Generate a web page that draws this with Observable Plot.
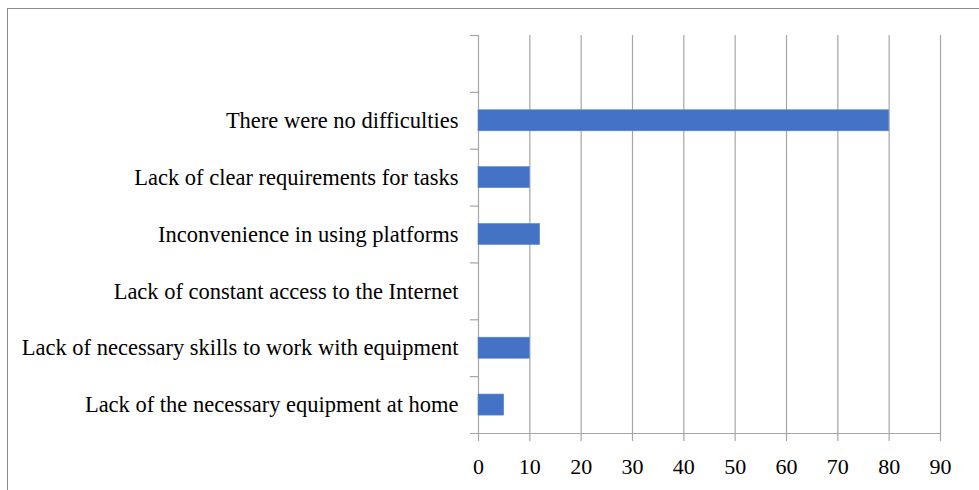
<!DOCTYPE html>
<html><head><meta charset="utf-8">
<script src="https://cdn.jsdelivr.net/npm/d3@7"></script>
<script src="https://cdn.jsdelivr.net/npm/@observablehq/plot@0.6"></script>
<style>
body{margin:0;background:#fff}
#wrap{position:relative;width:979px;height:490px;overflow:hidden}
#wrap svg{display:block}
#border{position:absolute;left:7px;top:8px;width:2000px;height:2000px;border-left:1.5px solid #8c8c8c;border-top:1.5px solid #8c8c8c;pointer-events:none}
</style></head><body><div id="wrap"><div id="border"></div></div>
<script>
const categories = [
  "",
  "There were no difficulties",
  "Lack of clear requirements for tasks",
  "Inconvenience in using platforms",
  "Lack of constant access to the Internet",
  "Lack of necessary skills to work with equipment",
  "Lack of the necessary equipment at home"
];
const values = [null, 80, 10, 12, 0, 10, 5];
const xTicks = [0, 10, 20, 30, 40, 50, 60, 70, 80, 90];

const data = categories.map((c, i) => ({category: c, value: values[i]})).filter(d => d.value != null);

const W = 979, H = 490, mT = 35, mB = 57, mL = 478, mR = 39;
const step = (H - mT - mB) / categories.length;
const gray = "#a6a6a6";

const chart = Plot.plot({
  width: W, height: H,
  marginTop: mT, marginBottom: mB, marginLeft: mL, marginRight: mR,
  style: {fontFamily: "'Liberation Serif', serif", fontSize: "22px", color: "#000", background: "transparent"},
  x: {domain: [0, 90], axis: null},
  y: {domain: categories, paddingInner: 0.63, paddingOuter: 0.315, align: 0.5, round: false, axis: null},
  marks: [
    Plot.gridX(xTicks, {stroke: gray, strokeOpacity: 1, strokeWidth: 1.2}),
    Plot.ruleY(categories, {x1: 0, x2: 0, insetLeft: -8, dy: -step / 2, stroke: gray, strokeWidth: 1.2}),
    Plot.ruleY([categories[categories.length - 1]], {insetLeft: -8, dy: step / 2, stroke: gray, strokeWidth: 1.2}),
    Plot.barX(data, {x: "value", y: "category", fill: "#4472C4", stroke: "#5a84cf", strokeWidth: 0.6}),
    Plot.axisX({ticks: xTicks, tickSize: 8, tickPadding: 16.5, stroke: gray, strokeWidth: 1.2, fill: "#000", label: null}),
    Plot.axisY({tickSize: 0, tickPadding: 20, fill: "#000", label: null, fontSize: 22.5})
  ]
});
document.getElementById("wrap").prepend(chart);
</script>
</body></html>
